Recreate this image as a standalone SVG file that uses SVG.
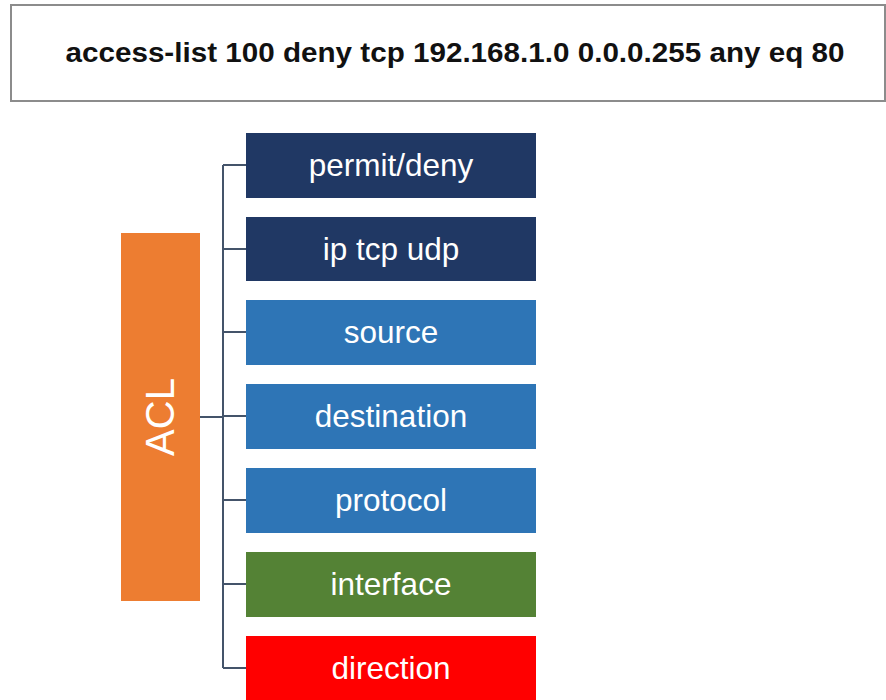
<svg xmlns="http://www.w3.org/2000/svg" width="886" height="700" viewBox="0 0 886 700">
<style>
.lbl{font-family:"Liberation Sans",Arial,sans-serif;font-size:31.5px;fill:#ffffff;text-anchor:middle}
.conn{stroke:#44546a;stroke-width:2;fill:none}
</style>
<rect width="886" height="700" fill="#ffffff"/>
<g id="header">
<rect x="11" y="5" width="874" height="96" fill="#ffffff" stroke="#8c8c8c" stroke-width="2"/>
<text x="455" y="62" font-family="Liberation Sans,Arial,sans-serif" font-size="28" font-weight="bold" text-anchor="middle" fill="#111111" textLength="779" lengthAdjust="spacingAndGlyphs">access-list 100 deny tcp 192.168.1.0 0.0.0.255 any eq 80</text>
</g>
<g id="connectors">
<path class="conn" d="M200 417 H223"/>
<path class="conn" d="M223 165 V668"/>
<path class="conn" d="M223 165 H246 M223 249 H246 M223 332 H246 M223 416 H246 M223 500 H246 M223 584 H246 M223 668 H246"/>
</g>
<g id="acl">
<rect x="121" y="233" width="79" height="368" fill="#ed7d31"/>
<text transform="translate(174 417) rotate(-90)" x="0" y="0" font-family="Liberation Sans,Arial,sans-serif" font-size="40" fill="#ffffff" text-anchor="middle">ACL</text>
</g>
<g id="permit">
<rect x="246" y="133" width="290" height="65" fill="#203864"/>
<text class="lbl" x="391" y="176">permit/deny</text>
</g>
<g id="proto-type">
<rect x="246" y="217" width="290" height="64" fill="#203864"/>
<text class="lbl" x="391" y="260">ip tcp udp</text>
</g>
<g id="source">
<rect x="246" y="300" width="290" height="65" fill="#2e75b6"/>
<text class="lbl" x="391" y="343">source</text>
</g>
<g id="destination">
<rect x="246" y="384" width="290" height="65" fill="#2e75b6"/>
<text class="lbl" x="391" y="427">destination</text>
</g>
<g id="protocol">
<rect x="246" y="468" width="290" height="65" fill="#2e75b6"/>
<text class="lbl" x="391" y="511">protocol</text>
</g>
<g id="interface">
<rect x="246" y="552" width="290" height="65" fill="#548235"/>
<text class="lbl" x="391" y="595">interface</text>
</g>
<g id="direction">
<rect x="246" y="636" width="290" height="70" fill="#ff0000"/>
<text class="lbl" x="391" y="679">direction</text>
</g>
</svg>
